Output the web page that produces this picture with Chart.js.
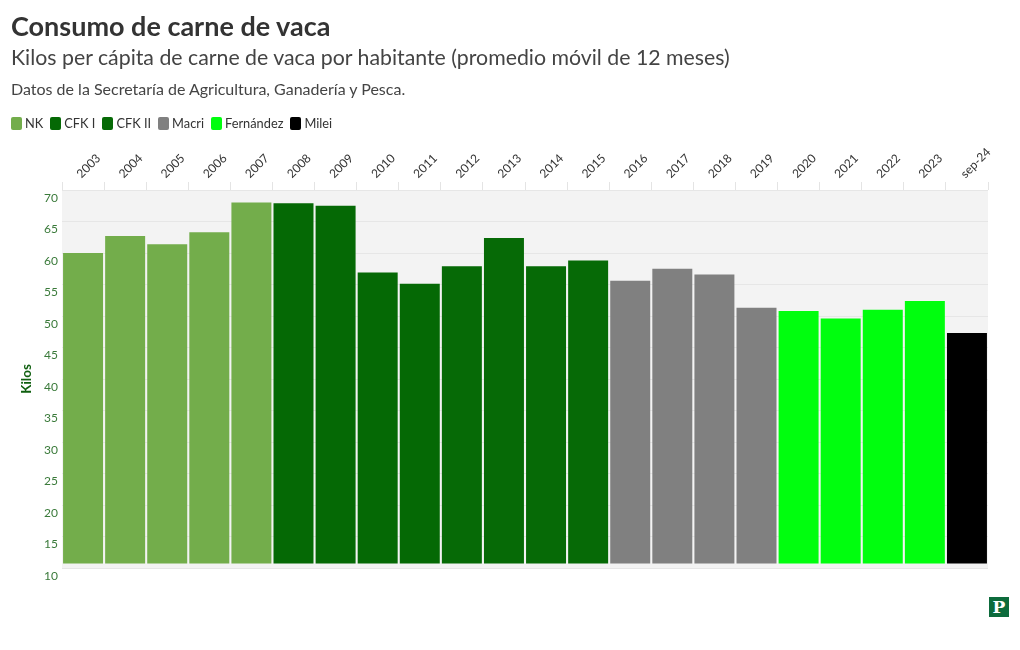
<!DOCTYPE html>
<html>
<head>
<meta charset="utf-8">
<script src="https://cdn.jsdelivr.net/npm/chart.js@4/dist/chart.umd.min.js"></script>
<style>
  html, body { margin:0; padding:0; background:#fff; width:1020px; height:650px; overflow:hidden; font-family: Lato, "Noto Sans", sans-serif; }
  #wrap { position:relative; width:1020px; height:650px; }
  canvas { position:absolute; left:0; top:0; }
  .t { position:absolute; left:11px; white-space:nowrap; color:#333; }
  #title { top:10px; font-size:27px; font-weight:700; line-height:32px; color:#333; }
  #sub { top:44px; font-size:21.3px; line-height:26px; color:#444; }
  #note { top:79px; font-size:16px; line-height:19px; color:#444; }
  #legend { position:absolute; left:11px; top:115px; display:flex; align-items:center; font-size:12.8px; color:#333; }
  #legend .it { display:flex; align-items:center; margin-right:7px; }
  #legend .sw { width:11px; height:13px; border-radius:2px; margin-right:3px; }
  #logo { position:absolute; left:989px; top:597px; width:20px; height:20px; background:#0d6b3c; color:#fff; font-family:"DejaVu Serif", "Liberation Serif", serif; font-weight:700; font-size:17px; line-height:20px; text-align:center; }
</style>
</head>
<body>
<div id="wrap">
  <canvas id="c" width="1020" height="650"></canvas>
  <div class="t" id="title">Consumo de carne de vaca</div>
  <div class="t" id="sub">Kilos per cápita de carne de vaca por habitante (promedio móvil de 12 meses)</div>
  <div class="t" id="note">Datos de la Secretaría de Agricultura, Ganadería y Pesca.</div>
  <div id="legend"></div>
  <div id="logo">P</div>
</div>
<script>
const categories = ['2003','2004','2005','2006','2007','2008','2009','2010','2011','2012','2013','2014','2015','2016','2017','2018','2019','2020','2021','2022','2023','sep-24'];
const kilos = [60.0, 62.7, 61.4, 63.3, 68.0, 67.9, 67.5, 56.9, 55.1, 57.9, 62.4, 57.9, 58.8, 55.6, 57.5, 56.6, 51.3, 50.8, 49.6, 51.0, 52.4, 47.3];
const governments = ['NK','CFK I','CFK II','Macri','Fernández','Milei'];
const governmentColors = ['#73ad4b','#056905','#066a06','#808080','#00fe0e','#000000'];
const governmentOfBar = [0,0,0,0,0,1,1,1,1,2,2,2,2,3,3,3,3,4,4,4,4,5];
const yTicks = [10,15,20,25,30,35,40,45,50,55,60,65,70];

// legend
const lg = document.getElementById('legend');
governments.forEach((g,i)=>{
  const it = document.createElement('div'); it.className='it';
  const sw = document.createElement('div'); sw.className='sw'; sw.style.background=governmentColors[i];
  const tx = document.createElement('span'); tx.textContent=g;
  it.appendChild(sw); it.appendChild(tx); lg.appendChild(it);
});

const bgPlugin = {
  id:'plotbg',
  beforeDraw(chart){
    const {ctx, chartArea:a} = chart;
    ctx.save(); ctx.fillStyle='#f3f3f3';
    ctx.fillRect(a.left, a.top, a.right-a.left, a.bottom-a.top);
    ctx.restore();
  }
};

new Chart(document.getElementById('c'), {
  type:'bar',
  data:{
    labels: categories,
    datasets:[{
      data: kilos,
      base: 10.7,
      backgroundColor: governmentOfBar.map(i=>governmentColors[i]),
      barPercentage: 0.95,
      categoryPercentage: 1.0,
      borderWidth: 0
    }]
  },
  options:{
    responsive:false,
    animation:false,
    events:[],
    layout:{ padding:{ top:140, left:14, right:32, bottom:82 } },
    plugins:{ legend:{display:false}, tooltip:{enabled:false} },
    scales:{
      x:{
        position:'top',
        grid:{ drawOnChartArea:false, drawTicks:true, tickLength:8, color:'#e4e4e4' },
        border:{ display:false },
        ticks:{ minRotation:45, maxRotation:45, padding:1, labelOffset:6, color:'#333', font:{ family:'Lato', size:12 } },
        afterFit(s){ s.height = 50; }
      },
      y:{
        min:10, max:70,
        afterBuildTicks(s){ s.ticks = yTicks.map(v=>({value:v})); },
        grid:{ color:'#e6e6e6', drawTicks:false, lineWidth:1 },
        border:{ display:false },
        ticks:{ labelOffset:8, padding:4, color:'#3a7a3a', font:{ family:'Lato', size:12 } },
        title:{ display:true, text:'Kilos', color:'#0f5f0f', font:{ family:'Lato', size:13.5, weight:'bold' }, padding:{top:5,bottom:0} },
        afterFit(s){ s.width = 48; }
      }
    }
  },
  plugins:[bgPlugin]
});
</script>
</body>
</html>
